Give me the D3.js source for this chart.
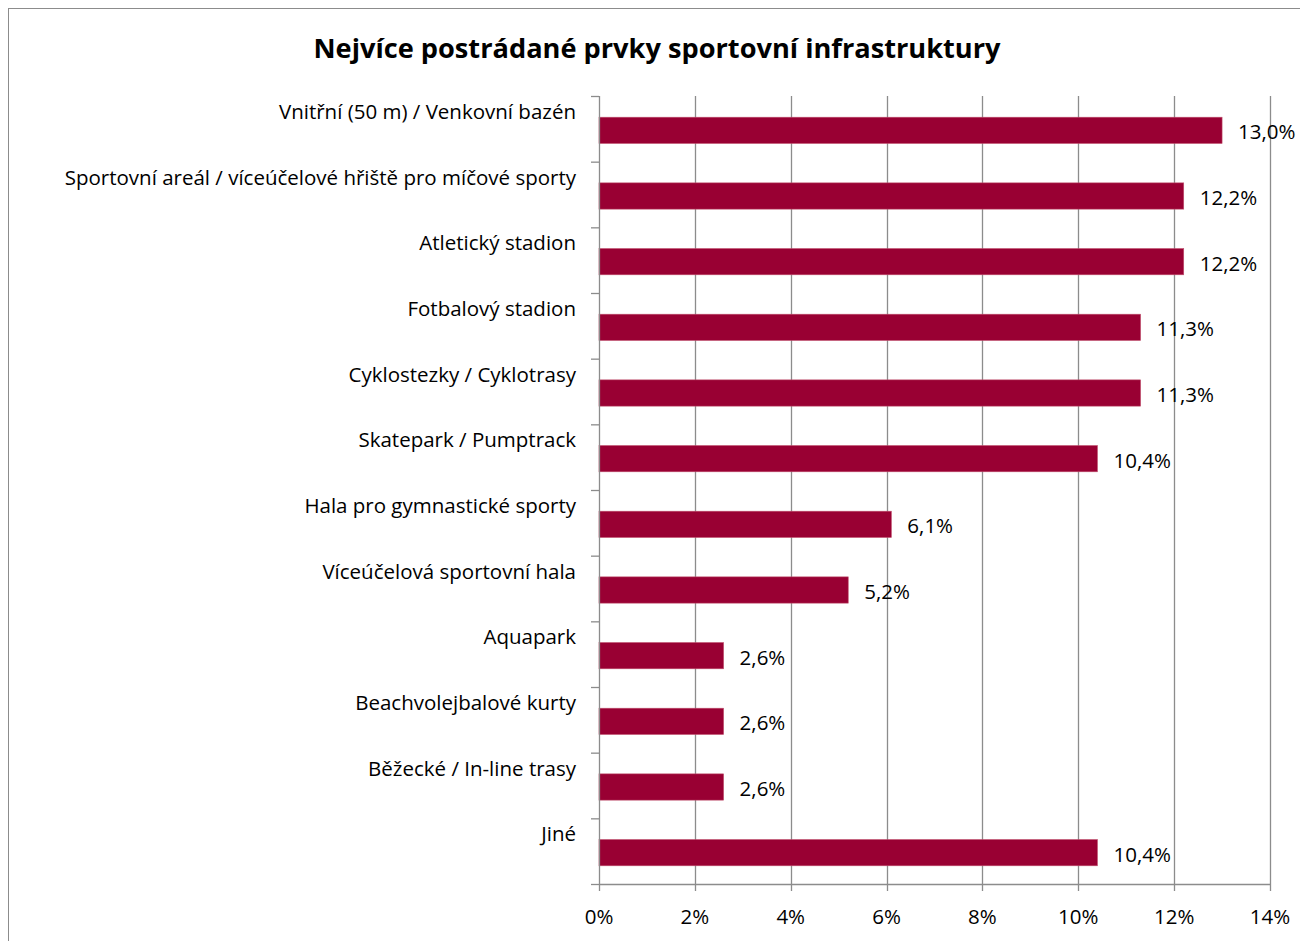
<!DOCTYPE html>
<html lang="cs">
<head>
<meta charset="UTF-8">
<title>Nejvíce postrádané prvky sportovní infrastruktury</title>
<style>
  body { margin: 0; padding: 0; background: #fff; }
  svg text { font-family: "Open Sans", "Noto Sans", sans-serif; fill: #000; }
</style>
</head>
<body>
<svg width="1300" height="941"></svg>
<script src="https://d3js.org/d3.v7.min.js"></script>
<script>
const categories = [
  "Vnitřní (50 m) / Venkovní bazén",
  "Sportovní areál / víceúčelové hřiště pro míčové sporty",
  "Atletický stadion",
  "Fotbalový stadion",
  "Cyklostezky / Cyklotrasy",
  "Skatepark / Pumptrack",
  "Hala pro gymnastické sporty",
  "Víceúčelová sportovní hala",
  "Aquapark",
  "Beachvolejbalové kurty",
  "Běžecké / In-line trasy",
  "Jiné"
];
const values = [13.0, 12.2, 12.2, 11.3, 11.3, 10.4, 6.1, 5.2, 2.6, 2.6, 2.6, 10.4];
const xTicks = [0, 2, 4, 6, 8, 10, 12, 14];

const svg = d3.select("svg");
const plotL = 599, plotR = 1270, plotT = 96, plotB = 884;
const barColor = "#990033";
const gridColor = "#8c8c8c";
const fs = 20.5;

// chart frame
svg.append("rect")
  .attr("x", 8.5).attr("y", 8.5)
  .attr("width", 1298).attr("height", 940)
  .attr("fill", "none").attr("stroke", "#8c8c8c").attr("stroke-width", 1);

svg.append("text")
  .attr("x", 657).attr("y", 58)
  .attr("text-anchor", "middle")
  .attr("font-size", 27.2).attr("font-weight", "bold")
  .text("Nejvíce postrádané prvky sportovní infrastruktury");

const x = d3.scaleLinear().domain([0, 14]).range([plotL, plotR]);
const y = d3.scaleBand().domain(categories).range([plotT, plotB]).paddingInner(0.6).paddingOuter(0.3);
const band = d3.scaleBand().domain(categories).range([plotT, plotB]);

// vertical gridlines
svg.append("g").selectAll("line")
  .data(xTicks.slice(1))
  .join("line")
  .attr("x1", d => Math.round(x(d)) + 0.5).attr("x2", d => Math.round(x(d)) + 0.5)
  .attr("y1", plotT).attr("y2", plotB + 7)
  .attr("stroke", gridColor).attr("stroke-width", 1.3);

// bars
svg.append("g").selectAll("rect")
  .data(values)
  .join("rect")
  .attr("x", plotL)
  .attr("y", (d, i) => y(categories[i]) + 1.5)
  .attr("width", d => x(d) - plotL)
  .attr("height", y.bandwidth())
  .attr("fill", barColor)
  .attr("stroke", "#c0506e").attr("stroke-width", 0.6);

// y axis line + ticks on band edges
svg.append("line")
  .attr("x1", plotL + 0.5).attr("x2", plotL + 0.5)
  .attr("y1", plotT).attr("y2", plotB)
  .attr("stroke", gridColor).attr("stroke-width", 1.3);
svg.append("g").selectAll("line")
  .data(d3.range(categories.length + 1))
  .join("line")
  .attr("x1", plotL - 8).attr("x2", plotL)
  .attr("y1", i => plotT + i * band.bandwidth() + 0.5)
  .attr("y2", i => plotT + i * band.bandwidth() + 0.5)
  .attr("stroke", gridColor).attr("stroke-width", 1.3);

// x axis
svg.append("line")
  .attr("x1", plotL).attr("x2", plotR)
  .attr("y1", plotB + 0.5).attr("y2", plotB + 0.5)
  .attr("stroke", gridColor).attr("stroke-width", 1.3);
svg.append("line")
  .attr("x1", plotL + 0.5).attr("x2", plotL + 0.5)
  .attr("y1", plotB).attr("y2", plotB + 7)
  .attr("stroke", gridColor).attr("stroke-width", 1.3);

svg.append("g").selectAll("text")
  .data(xTicks)
  .join("text")
  .attr("x", d => x(d))
  .attr("y", 924)
  .attr("text-anchor", "middle")
  .attr("font-size", fs)
  .text(d => d + "%");

// category labels (sit above the bar, as in the source)
svg.append("g").selectAll("text")
  .data(categories)
  .join("text")
  .attr("x", 576)
  .attr("y", d => band(d) + 23)
  .attr("text-anchor", "end")
  .attr("font-size", fs)
  .text(d => d);

// value labels
svg.append("g").selectAll("text")
  .data(values)
  .join("text")
  .attr("x", d => x(d) + 16)
  .attr("y", (d, i) => y(categories[i]) + 1.5 + y.bandwidth() / 2 + 9)
  .attr("font-size", fs)
  .text(d => d.toFixed(1).replace(".", ",") + "%");
</script>
</body>
</html>
